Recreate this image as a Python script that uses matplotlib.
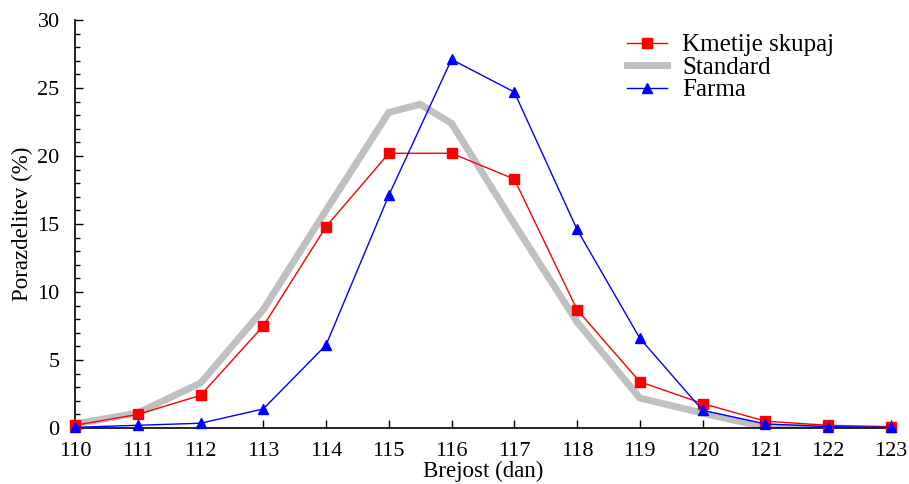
import numpy as np
import matplotlib
matplotlib.use("Agg")
import matplotlib.pyplot as plt

plt.rcParams['font.family'] = ['Liberation Serif', 'DejaVu Serif']
plt.rcParams['mathtext.fontset'] = 'stix'

# data
days = [110, 111, 112, 113, 114, 115, 116, 117, 118, 119, 120, 121, 122, 123]
kmetije = [0.2, 1.0, 2.4, 7.5, 14.8, 20.2, 20.2, 18.3, 8.7, 3.4, 1.8, 0.5, 0.2, 0.1]
farma = [0.05, 0.2, 0.35, 1.4, 6.1, 17.1, 27.1, 24.7, 14.6, 6.6, 1.3, 0.3, 0.1, 0.05]
std_days = [110, 111, 112, 113, 114, 115, 115.5, 116, 117, 118, 119, 120, 121, 122]
standard = [0.3, 1.1, 3.3, 8.7, 16.0, 23.2, 23.8, 22.4, 15.0, 7.8, 2.2, 1.1, 0.05, 0.0]

fig = plt.figure(figsize=(9.09, 4.84), dpi=100)
ax = fig.add_axes([0.0825, 0.1157, 0.8975, 0.843])

ax.plot(days, kmetije, color='red', lw=1.0, marker='s', ms=7,
        label='Kmetije skupaj', clip_on=False, zorder=3)
ax.plot(std_days, standard, color='#c0c0c0', lw=5, label='Standard',
        solid_joinstyle='miter', zorder=2)
ax.plot(days, farma, color='blue', lw=1.0, marker='^', ms=7,
        label='Farma', clip_on=False, zorder=4)

ax.set_xlim(110, 123)
ax.set_ylim(0, 30)
ax.set_xticks(days)
ax.set_yticks(np.arange(0, 31, 5))
ax.set_yticks(np.arange(0, 31, 1), minor=True)
ax.tick_params(direction='in', labelsize=16, length=6, width=1)
ax.tick_params(axis='y', which='minor', direction='in', length=3.5, width=1)
ax.tick_params(axis='x', pad=10)
ax.tick_params(axis='y', which='major', pad=11)
for s in ['top', 'right']:
    ax.spines[s].set_visible(False)
ax.spines['left'].set_linewidth(1.2)
ax.spines['bottom'].set_linewidth(1.2)

ax.set_xlabel('Brejost (dan)', fontsize=16.5, labelpad=0)
ax.set_ylabel('Porazdelitev (%)', fontsize=16.5, labelpad=3)

ax.legend(loc='upper right', bbox_to_anchor=(0.955, 1.015), frameon=False,
          fontsize=18, handlelength=1.6, handletextpad=0.6,
          labelspacing=0.0, borderpad=0.3)

fig.savefig('out.png', dpi=100)
